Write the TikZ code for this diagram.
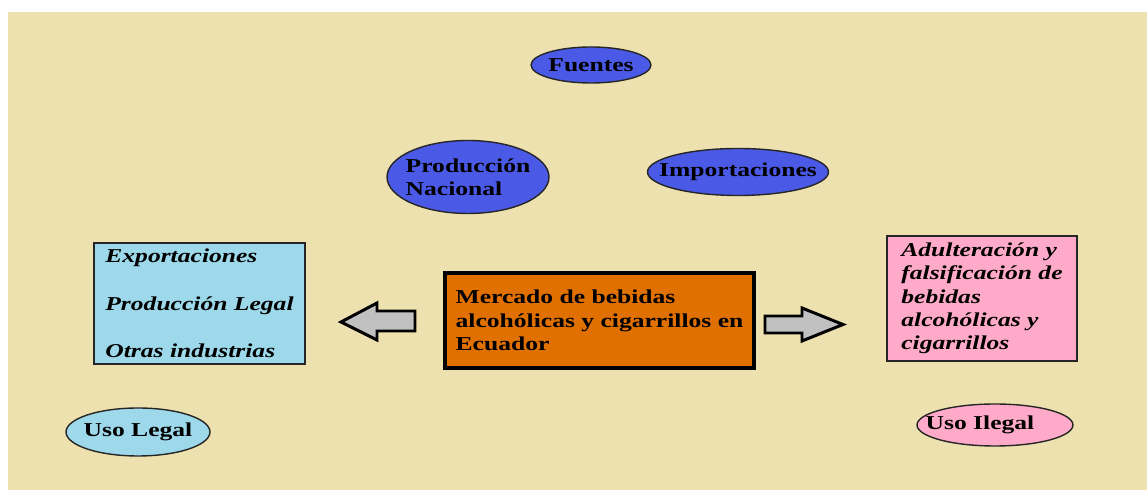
\documentclass[tikz,border=0pt]{standalone}
\usepackage{fontspec}
\setmainfont{Liberation Serif}[FakeStretch=1.3]
\usetikzlibrary{shapes.geometric}
\definecolor{fondo}{HTML}{EEE1B0}
\definecolor{azul}{HTML}{4B5AE6}
\definecolor{celeste}{HTML}{9DD9EA}
\definecolor{rosa}{HTML}{FFAAC8}
\definecolor{naranja}{HTML}{E07000}
\definecolor{gris}{HTML}{C0C0C0}
\tikzset{
	letra/.style={font=\bfseries\fontsize{11.2pt}{13.3pt}\selectfont},
	cursiva/.style={font=\bfseries\itshape\fontsize{11.2pt}{13.3pt}\selectfont},
	fuente/.style={draw=black!85,ellipse,line width=0.8pt,inner sep=0pt},
	caja/.style={draw=black!85,rectangle,line width=0.8pt,inner sep=0pt,align=left},
	flecha/.style={draw=black,fill=gris,line width=1.7pt,line join=miter}
}

\begin{document}
\begin{tikzpicture}[x=0.02cm,y=-0.02cm]
			\useasboundingbox (0,0) rectangle (1147,492);
			\fill[fondo] (8,12) rectangle (1147,490);
			\node[fuente,fill=azul,minimum width=2.4cm,minimum height=0.72cm,label={[letra]center:Fuentes}] (fuentes) at (591,65){};
			\node[fuente,fill=azul,minimum width=3.24cm,minimum height=1.46cm,label={[letra,align=left]center:Producción\\Nacional}] (nacional) at (468,177){};
			\node[fuente,fill=azul,minimum width=3.62cm,minimum height=0.94cm,label={[letra]center:Importaciones}] (importaciones) at (738,172){};
			\node[caja,fill=celeste,minimum width=4.22cm,minimum height=2.42cm,cursiva] (legal) at (199.5,303.5){Exportaciones\\[13.7pt]Producción Legal\\[13.7pt]Otras industrias};
			\node[caja,fill=naranja,draw=black,line width=2.3pt,minimum width=6.18cm,minimum height=1.9cm,letra] (mercado) at (599.5,320.5){Mercado de bebidas\\alcohólicas y cigarrillos en\\Ecuador};
			\node[caja,fill=rosa,minimum width=3.8cm,minimum height=2.5cm,cursiva] (ilegal) at (982,298.5){Adulteración y\\falsificación de\\bebidas\\alcohólicas y\\cigarrillos};
			\node[fuente,fill=celeste,minimum width=2.88cm,minimum height=0.96cm,label={[letra]center:Uso Legal}] (usolegal) at (138,432){};
			\node[fuente,fill=rosa,minimum width=3.12cm,minimum height=0.84cm,label={[letra,xshift=-0.3cm]center:Uso Ilegal}] (usoilegal) at (995,425){};
			\draw[flecha] (415,311) -- (377,311) -- (377,303) -- (341,322) -- (377,340) -- (377,331) -- (415,331) -- cycle;
			\draw[flecha] (765,316) -- (802,316) -- (802,308) -- (843,324.5) -- (802,341) -- (802,333) -- (765,333) -- cycle;
		\end{tikzpicture}
\end{document}
